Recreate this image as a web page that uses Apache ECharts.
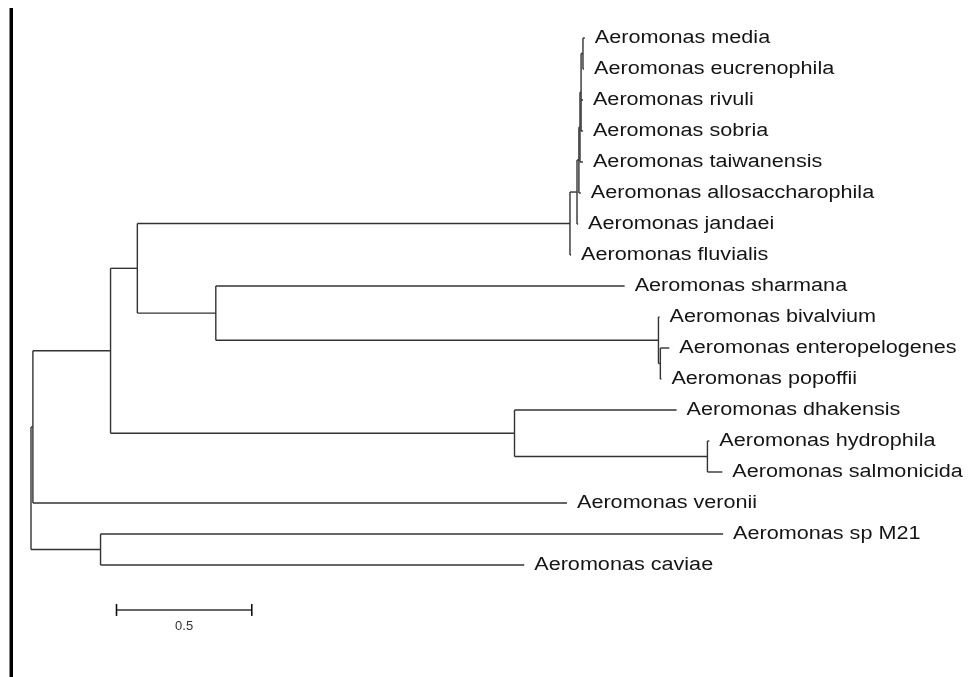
<!DOCTYPE html>
<html>
<head>
<meta charset="utf-8">
<script src="https://cdn.jsdelivr.net/npm/echarts@6/dist/echarts.min.js"></script>
<style>
html,body{margin:0;padding:0;background:#fff;}
#chart{width:978px;height:677px;}
</style>
</head>
<body>
<div id="chart"></div>
<script>
// Tip labels, in top-to-bottom order
const taxa = [
  'Aeromonas media', 'Aeromonas eucrenophila', 'Aeromonas rivuli', 'Aeromonas sobria',
  'Aeromonas taiwanensis', 'Aeromonas allosaccharophila', 'Aeromonas jandaei', 'Aeromonas fluvialis',
  'Aeromonas sharmana', 'Aeromonas bivalvium', 'Aeromonas enteropelogenes', 'Aeromonas popoffii',
  'Aeromonas dhakensis', 'Aeromonas hydrophila', 'Aeromonas salmonicida', 'Aeromonas veronii',
  'Aeromonas sp M21', 'Aeromonas caviae'
];
// Tree edges: child, parent, branch length (parents listed before their children)
const edgeChild = [
  'A', 'F',
  'B', 'Aeromonas veronii',
  'C', 'D',
  'G1', 'E',
  'X', 'Aeromonas fluvialis',
  'T', 'Aeromonas jandaei',
  'U', 'Aeromonas allosaccharophila',
  'V', 'Aeromonas taiwanensis',
  'M', 'Aeromonas rivuli', 'Aeromonas sobria',
  'Aeromonas media', 'Aeromonas eucrenophila',
  'Aeromonas sharmana', 'BV',
  'Aeromonas bivalvium', 'EP',
  'Aeromonas enteropelogenes', 'Aeromonas popoffii',
  'Aeromonas dhakensis', 'HS',
  'Aeromonas hydrophila', 'Aeromonas salmonicida',
  'Aeromonas sp M21', 'Aeromonas caviae'
];
const edgeParent = [
  'root', 'root',
  'A', 'A',
  'B', 'B',
  'C', 'C',
  'G1', 'G1',
  'X', 'X',
  'T', 'T',
  'U', 'U',
  'V', 'V', 'V',
  'M', 'M',
  'E', 'E',
  'BV', 'BV',
  'EP', 'EP',
  'D', 'D',
  'HS', 'HS',
  'F', 'F'
];
const branchLength = [
  0.007, 0.257,
  0.287, 1.974,
  0.099, 1.493,
  1.599, 0.290,
  0.026, 0.004,
  0.007, 0.004,
  0.004, 0.007,
  0.004, 0.011,
  0.007, 0.007, 0.007,
  0.007, 0.004,
  1.511, 1.636,
  0.004, 0.007,
  0.033, 0.004,
  0.599, 0.713,
  0.007, 0.055,
  2.301, 1.566
];
// Scale bar
const scaleBarLength = [0.5];
const scaleBarLabel = ['0.5'];

// ---- layout (phylogram) ----
const xPos = { root: 0 };
const children = {};
edgeChild.forEach((c, i) => {
  const p = edgeParent[i];
  xPos[c] = xPos[p] + branchLength[i];
  (children[p] = children[p] || []).push(c);
});
const yPos = {};
function layY(n) {
  if (yPos[n] !== undefined) return yPos[n];
  if (!children[n]) { yPos[n] = taxa.indexOf(n); return yPos[n]; }
  const ys = children[n].map(layY);
  yPos[n] = (Math.min(...ys) + Math.max(...ys)) / 2;
  return yPos[n];
}
layY('root');

const segments = [];
edgeChild.forEach((c, i) => {
  const p = edgeParent[i];
  segments.push([xPos[p], yPos[c], xPos[c], yPos[c]]);
});
Object.keys(children).forEach(n => {
  const ys = children[n].map(c => yPos[c]);
  segments.push([xPos[n], Math.min(...ys), xPos[n], Math.max(...ys)]);
});
const tipData = taxa.map(t => [xPos[t], yPos[t], t]);

const scaleStart = 0.316, scaleRow = 18.45;
const scaleData = [[scaleStart, scaleRow, scaleStart + scaleBarLength[0], scaleRow]];

const LINE = '#333';
const FONT = '"Liberation Sans", Arial, sans-serif';
const chart = echarts.init(document.getElementById('chart'), null, { renderer: 'canvas' });
chart.setOption({
  animation: false,
  backgroundColor: '#fff',
  grid: { left: 31, top: 38, width: 272 * 3.5, height: 31 * 20 },
  xAxis: { type: 'value', min: 0, max: 3.5, show: false },
  yAxis: { type: 'value', min: 0, max: 20, inverse: true, show: false },
  graphic: [
    { type: 'rect', shape: { x: 9.5, y: 8, width: 3.5, height: 680 }, style: { fill: '#000' } }
  ],
  series: [
    {
      type: 'custom',
      data: segments,
      encode: { x: [0, 2], y: [1, 3] },
      renderItem: function (params, api) {
        const a = api.coord([api.value(0), api.value(1)]);
        const b = api.coord([api.value(2), api.value(3)]);
        return {
          type: 'line',
          shape: { x1: a[0], y1: a[1], x2: b[0], y2: b[1] },
          style: { stroke: LINE, lineWidth: 1.4 }
        };
      }
    },
    {
      type: 'custom',
      data: tipData,
      encode: { x: 0, y: 1 },
      renderItem: function (params, api) {
        const p = api.coord([api.value(0), api.value(1)]);
        return {
          type: 'text',
          x: p[0] + 10,
          y: p[1],
          scaleX: 1.2,
          style: {
            text: tipData[params.dataIndex][2],
            fontSize: 18,
            fontFamily: FONT,
            fill: '#151515',
            align: 'left',
            verticalAlign: 'middle'
          }
        };
      }
    },
    {
      type: 'custom',
      data: scaleData,
      encode: { x: [0, 2], y: [1, 3] },
      renderItem: function (params, api) {
        const a = api.coord([api.value(0), api.value(1)]);
        const b = api.coord([api.value(2), api.value(3)]);
        return {
          type: 'group',
          children: [
            { type: 'line', shape: { x1: a[0], y1: a[1], x2: b[0], y2: b[1] }, style: { stroke: LINE, lineWidth: 1.4 } },
            { type: 'line', shape: { x1: a[0], y1: a[1] - 6, x2: a[0], y2: a[1] + 6 }, style: { stroke: '#111', lineWidth: 1.6 } },
            { type: 'line', shape: { x1: b[0], y1: b[1] - 6, x2: b[0], y2: b[1] + 6 }, style: { stroke: '#111', lineWidth: 1.6 } },
            { type: 'text', x: (a[0] + b[0]) / 2, y: a[1] + 10, style: { text: scaleBarLabel[0], fontSize: 13, fontFamily: FONT, fill: '#333', align: 'center', verticalAlign: 'top' } }
          ]
        };
      }
    }
  ]
});
</script>
</body>
</html>
